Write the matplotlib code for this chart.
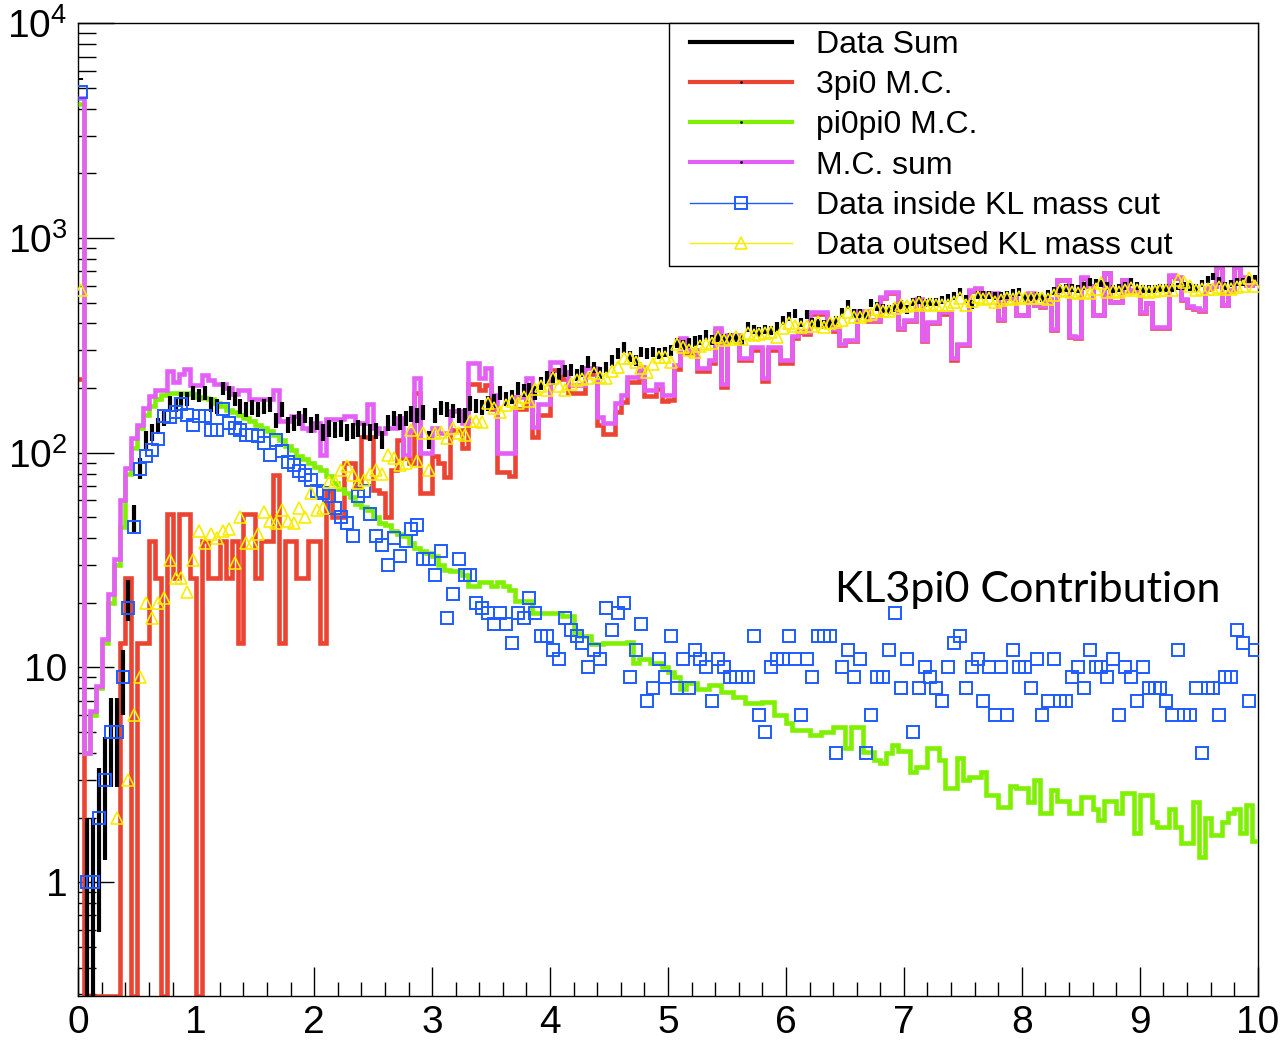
import numpy as np
import matplotlib
matplotlib.use("Agg")
import matplotlib.pyplot as plt
from matplotlib.lines import Line2D
from matplotlib.patches import Rectangle
from matplotlib.ticker import FixedLocator, LogLocator, MultipleLocator, NullFormatter, FuncFormatter

plt.rcParams['font.family'] = ['Liberation Sans', 'DejaVu Sans']
plt.rcParams['mathtext.fontset'] = 'custom'
plt.rcParams['mathtext.rm'] = 'Liberation Sans'
plt.rcParams['mathtext.it'] = 'Liberation Sans:italic'

# 200 bins of width 0.05 from 0 to 10
x_lo, x_hi, n_bins = 0.0, 10.0, 200
bin_edges = np.linspace(x_lo, x_hi, n_bins + 1)
bin_centres = 0.5 * (bin_edges[:-1] + bin_edges[1:])

# pi0pi0 M.C.
mc_2pi0 = [
    4200, 4, 6, 8, 13, 20, 30, 45, 80, 105,
    130, 150, 165, 178, 185, 190, 190, 190, 190, 188,
    182, 180, 177, 170, 165, 158, 155, 150, 145, 140,
    135, 130, 126, 121, 115, 107, 103, 97, 94, 90,
    86, 83, 78, 72, 68, 65, 62, 58, 56, 54,
    50, 47, 46, 43, 42, 41, 38, 36, 35, 34,
    33, 30, 28.5, 28, 28, 27, 24, 24, 25, 25,
    24, 25, 24, 23, 20.5, 20.5, 20.5, 18, 18, 18,
    18, 18, 17.3, 17.3, 14.5, 14, 14, 12.8, 12.8, 13,
    13, 13, 13, 13.1, 10.5, 11, 11, 10.5, 10.5, 10,
    9.5, 9, 7.9, 8.5, 8.5, 7.9, 7.9, 8.3, 8.3, 7.7,
    7.7, 7.3, 7.3, 6.8, 6.8, 6.8, 6.9, 6.9, 6.0, 6.0,
    5.5, 5.1, 5.1, 5.1, 4.85, 4.85, 5.0, 5.0, 5.3, 5.3,
    4.2, 5.3, 5.3, 4.05, 4.05, 3.7, 3.6, 4.0, 4.35, 4.1,
    4.1, 3.25, 3.45, 3.45, 4.2, 4.2, 3.7, 2.75, 2.75, 3.8,
    3.0, 3.1, 3.1, 3.25, 2.55, 2.55, 2.25, 2.25, 2.8, 2.75,
    2.75, 2.37, 3.0, 2.1, 2.1, 2.7, 2.4, 2.4, 2.1, 2.1,
    2.5, 2.5, 2.2, 1.95, 2.4, 2.4, 2.1, 2.6, 2.6, 1.7,
    2.55, 2.55, 1.9, 1.8, 1.8, 2.2, 1.8, 1.52, 1.52, 2.37,
    1.31, 2.0, 1.66, 1.66, 1.9, 2.1, 2.2, 1.7, 2.3, 1.55,
]

# M.C. sum
mc_sum = [
    4500, 4, 6.3, 8.2, 13.6, 22, 32, 60, 85, 117,
    135, 162, 184, 196, 196, 241, 213, 232, 245, 206,
    206, 229, 217, 208, 208, 200, 188, 196, 196, 177,
    177, 177, 177, 196, 141, 141, 148, 148, 130, 127,
    137, 98, 143, 143, 143, 149, 149, 137, 137, 168,
    130, 123, 130, 130, 145, 98, 127, 222, 100, 100,
    130, 123, 123, 157, 157, 137, 261, 261, 222, 248,
    185, 100, 100, 100, 182, 182, 222, 132, 168, 168,
    265, 265, 238, 206, 206, 206, 248, 248, 147, 137,
    137, 170, 186, 226, 226, 250, 195, 195, 210, 186,
    186, 256, 343, 300, 300, 248, 248, 270, 380, 210,
    354, 354, 277, 277, 310, 310, 222, 310, 310, 270,
    270, 350, 370, 365, 450, 450, 450, 405, 375, 322,
    335, 335, 455, 455, 415, 415, 530, 560, 560, 380,
    415, 415, 520, 335, 405, 405, 450, 450, 275, 322,
    322, 570, 585, 555, 555, 555, 420, 530, 530, 440,
    440, 555, 490, 480, 520, 375, 640, 640, 350, 345,
    655, 600, 440, 440, 690, 505, 505, 640, 570, 570,
    450, 500, 385, 385, 385, 670, 655, 520, 480, 470,
    460, 585, 600, 735, 490, 570, 735, 655, 605, 620,
]

# 3pi0 M.C.
mc_3pi0 = [
    220, 0, 0, 0, 0, 0, 0, 13, 26, 0,
    13, 13, 39, 26, 0, 52, 26, 52, 52, 26,
    0, 39, 26, 26, 39, 26, 39, 13, 52, 52,
    26, 39, 39, 79, 13, 39, 39, 26, 26, 39,
    39, 13, 66, 50, 50, 90, 90, 70, 118, 118,
    67, 65, 50, 83, 115, 95, 90, 190, 65, 65,
    97, 90, 77, 128, 128, 105, 210, 210, 195, 207,
    160, 81, 81, 78, 160, 160, 200, 118, 150, 150,
    243, 243, 220, 190, 190, 190, 232, 232, 135, 122,
    122, 155, 172, 213, 213, 238, 183, 183, 198, 175,
    176, 246, 334, 291, 291, 240, 240, 262, 370, 202,
    346, 346, 270, 270, 302, 302, 215, 302, 302, 263,
    263, 344, 364, 359, 444, 444, 444, 399, 369, 316,
    330, 330, 449, 449, 410, 410, 525, 555, 555, 375,
    410, 410, 515, 330, 400, 400, 445, 445, 270, 317,
    317, 565, 580, 550, 550, 550, 416, 526, 526, 436,
    436, 551, 486, 476, 516, 371, 636, 636, 346, 341,
    651, 596, 436, 436, 686, 501, 501, 636, 566, 566,
    446, 496, 381, 381, 381, 666, 651, 516, 476, 466,
    457, 581, 596, 731, 486, 566, 731, 651, 601, 616,
]

# Data Sum
data_sum = [
    5500, 1, 1, 2, 3, 5, 5, 9, 21, 50,
    85, 115, 125, 134, 145, 170, 168, 178, 178, 190,
    185, 190, 168, 165, 200, 190, 178, 165, 160, 163,
    160, 165, 168, 142, 160, 135, 138, 145, 150, 135,
    140, 125, 130, 128, 130, 125, 127, 130, 127, 125,
    127, 115, 138, 145, 140, 145, 152, 150, 155, 115,
    150, 162, 160, 157, 150, 150, 170, 166, 163, 170,
    175, 190, 178, 182, 200, 195, 198, 190, 210, 225,
    222, 233, 240, 243, 230, 240, 265, 250, 235, 250,
    270, 290, 310, 280, 270, 295, 290, 295, 290, 295,
    300, 326, 318, 326, 330, 335, 354, 335, 345, 340,
    343, 338, 335, 385, 375, 365, 375, 372, 385, 415,
    430, 445, 405, 440, 405, 400, 395, 400, 415, 450,
    490, 445, 445, 430, 500, 480, 470, 465, 475, 490,
    465, 505, 515, 500, 503, 505, 515, 525, 540, 560,
    520, 490, 545, 545, 545, 535, 535, 545, 555, 560,
    525, 530, 535, 525, 550, 565, 580, 585, 585, 580,
    600, 625, 620, 615, 600, 580, 585, 600, 625, 600,
    580, 580, 580, 585, 585, 585, 595, 600, 590, 585,
    615, 640, 660, 630, 600, 615, 625, 625, 640, 650,
]

# Data inside KL mass cut
data_inside = [
    4800, 1, 1, 2, 3, 5, 5, 9, 19, 45,
    84, 97, 103, 116, 148, 146, 155, 168, 150, 135,
    149, 149, 128, 128, 159, 138, 130, 127, 121, 121,
    120, 111, 98, 115, 102, 91, 88, 82, 79, 75,
    66, 65, 63, 55, 50, 47, 41, 63, 66, 52,
    41, 37, 30, 40, 33, 39, 44, 46, 32, 32,
    27, 35, 17, 22, 32, 27, 27, 20, 19, 18,
    16, 18, 16, 13, 18, 17, 21, 18, 14, 14,
    12, 11, 17, 15, 14, 13, 10, 12, 11, 19,
    15, 18, 20, 9, 12, 16, 7, 8, 11, 9,
    14, 8, 11, 8, 12, 11, 10, 7, 11, 10,
    9, 9, 9, 9, 14, 6, 5, 10, 11, 11,
    14, 11, 6, 11, 9, 14, 14, 14, 4, 10,
    12, 9, 11, 4, 6, 9, 9, 12, 18, 8,
    11, 5, 8, 10, 9, 8, 7, 10, 13, 14,
    8, 10, 11, 7, 10, 6, 10, 6, 12, 10,
    10, 8, 11, 6, 7, 11, 7, 7, 9, 10,
    8, 12, 10, 10, 9, 11, 6, 10, 9, 7,
    10, 8, 8, 8, 7, 6, 12, 6, 6, 8,
    4, 8, 8, 6, 9, 9, 15, 13, 7, 12,
]

# Data outside KL mass cut (nan = empty bin)
nan = np.nan
data_outside = [
    575, nan, nan, nan, nan, nan, 2, nan, 3, 6,
    9, 20, 17, 20, 21, 31.5, 26, 26, 22.5, 31.5,
    43, 38, 42, 40, 43, 44, 30.5, 50, 38, 38,
    42, 53, 48, 47, 54, 48, 47, 55, 50, 65,
    54, 55, 73, 73, 83, 87, 79, 72, 75, 80,
    83, 80, 98, 95, 88, 90, 127, 92, 123, 83,
    123, 125, 117, 130, 123, 121, 141, 141, 139, 171,
    162, 155, 166, 175, 171, 182, 175, 198, 205, 195,
    222, 205, 195, 210, 217, 220, 222, 235, 226, 222,
    240, 250, 275, 275, 265, 248, 238, 260, 280, 280,
    265, 320, 310, 300, 295, 315, 320, 325, 345, 335,
    340, 345, 340, 360, 355, 358, 360, 365, 345, 380,
    400, 390, 385, 388, 390, 405, 385, 400, 408, 415,
    450, 430, 430, 440, 445, 465, 455, 455, 470, 490,
    480, 490, 500, 490, 495, 490, 490, 490, 505, 525,
    490, 510, 530, 520, 525, 505, 515, 525, 520, 530,
    528, 525, 528, 525, 520, 545, 570, 565, 560, 555,
    560, 555, 580, 615, 560, 565, 560, 575, 585, 570,
    565, 560, 565, 570, 575, 570, 640, 625, 600, 570,
    580, 580, 580, 590, 580, 580, 590, 600, 650, 600,
]

labels = ["Data Sum", "3pi0 M.C.", "pi0pi0 M.C.", "M.C. sum",
          "Data inside KL mass cut", "Data outsed KL mass cut"]

c_red = '#ec4433'
c_green = '#7ff000'
c_mag = '#e35ff5'
c_blue = '#1e5cff'
c_yel = '#f8ec00'

ymin, ymax = 0.296, 1e4

W, H = 1282, 1042
fig = plt.figure(figsize=(W / 100, H / 100), dpi=100)
ax = fig.add_axes([78.3 / W, 1 - 995.7 / H, (1257.7 - 78.3) / W, (995.7 - 23.3) / H])
ax.set_yscale('log')


def at_floor(v):
    # empty bins are drawn on the bottom of the frame, like ROOT does
    v = np.asarray(v, float)
    return np.where(v > 0, v, ymin)


ax.stairs(at_floor(mc_3pi0), bin_edges, baseline=None, color=c_red, lw=3.3, zorder=2)
ax.stairs(at_floor(mc_2pi0), bin_edges, baseline=None, color=c_green, lw=3.3, zorder=3)
ax.stairs(at_floor(mc_sum), bin_edges, baseline=None, color=c_mag, lw=3.3, zorder=4)

dsum = np.asarray(data_sum, float)
err = np.sqrt(dsum)
lo = np.clip(dsum - err, ymin * 0.5, None)
ax.vlines(bin_centres, lo, dsum + err, color='k', lw=3, zorder=5)

ax.plot(bin_centres, data_inside, ls='none', marker='s', mfc='none', mec=c_blue,
        ms=8.5, mew=1.4, zorder=6)
ax.plot(bin_centres, data_outside, ls='none', marker='^', mfc='none', mec=c_yel,
        ms=9, mew=1.2, zorder=7)

ax.set_xlim(x_lo, x_hi)
ax.set_ylim(ymin, ymax)

ax.xaxis.set_major_locator(MultipleLocator(1))
ax.xaxis.set_minor_locator(MultipleLocator(0.2))
ax.yaxis.set_major_locator(FixedLocator([1, 10, 100, 1000, 10000]))
ax.yaxis.set_minor_locator(LogLocator(base=10, subs=np.arange(2, 10), numticks=20))
ax.yaxis.set_minor_formatter(NullFormatter())


def yfmt(v, pos):
    if v >= 100:
        return r'$10^{%d}$' % round(np.log10(v))
    return '%d' % v


ax.yaxis.set_major_formatter(FuncFormatter(yfmt))
ax.tick_params(axis='x', which='major', direction='in', length=21, width=1, labelsize=28, pad=7)
ax.tick_params(axis='x', which='minor', direction='in', length=10, width=1)
ax.tick_params(axis='y', which='major', direction='in', length=26, width=1, labelsize=28, pad=8)
ax.tick_params(axis='y', which='minor', direction='in', length=13, width=1)
ax.tick_params(top=False, right=False, which='both')
for s in ax.spines.values():
    s.set_linewidth(1)

# legend box
box = Rectangle((669 / W, 1 - 266 / H), (1257.7 - 669) / W, (266 - 23.3) / H,
                transform=fig.transFigure, facecolor='white', edgecolor='black',
                lw=1, zorder=10, clip_on=False)
ax.add_patch(box)

dot = dict(marker='.', ms=2, mfc='k', mec='k')
handles = [
    Line2D([], [], color='k', lw=3),
    Line2D([], [], color=c_red, lw=3, **dot),
    Line2D([], [], color=c_green, lw=3, **dot),
    Line2D([], [], color=c_mag, lw=3, **dot),
    Line2D([], [], color=c_blue, lw=1, marker='s', mfc='none', mec=c_blue, ms=8.5, mew=1.4),
    Line2D([], [], color=c_yel, lw=1, marker='^', mfc='none', mec=c_yel, ms=9, mew=1.2),
]
leg = ax.legend(handles, labels, loc='upper left', bbox_to_anchor=(690 / W, 1 - 30 / H),
                bbox_transform=fig.transFigure, frameon=False, borderpad=0, borderaxespad=0,
                fontsize=23, handlelength=3.2, handletextpad=0.75, labelspacing=0.32,
                numpoints=1)
leg.set_zorder(11)

ax.text(0.642, 0.417, "KL3pi0 Contribution", transform=ax.transAxes, fontsize=31,
        family=['Lato', 'DejaVu Sans'], ha='left', va='center', zorder=12)

fig.savefig("out.png", dpi=100)
